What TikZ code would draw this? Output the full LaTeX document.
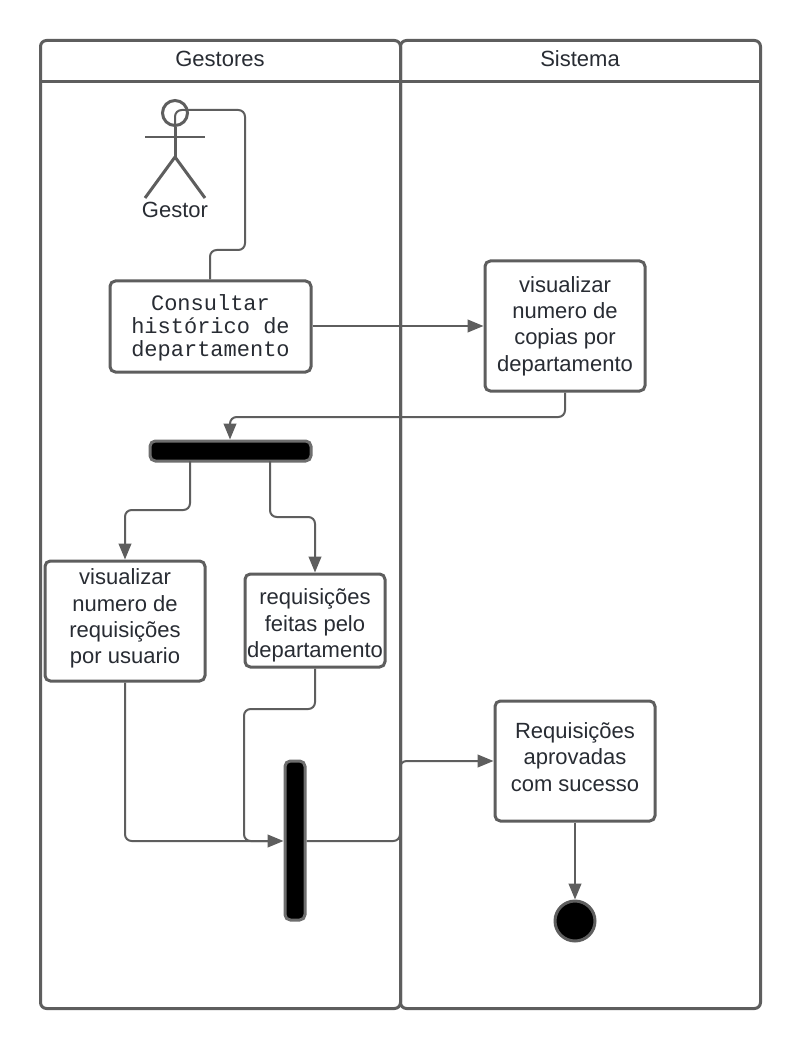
\documentclass[tikz,border=0pt]{standalone}
\usepackage{fontspec}
\setmainfont{Liberation Sans}
\setmonofont{Liberation Mono}
\usetikzlibrary{arrows.meta}
\definecolor{ln}{HTML}{5E5E5E}
\definecolor{tx}{HTML}{282C33}
\newcommand{\liftlines}[2]{\raisebox{\dimexpr#1-6.25pt\relax}[0pt][0pt]{\begin{tabular}{@{}c@{}}#2\end{tabular}}}
\tikzset{
  lanebox/.style={draw=ln,line width=2.25pt,rounded corners=4.5pt,anchor=north west,inner sep=0pt,outer sep=0pt},
  lanehead/.style={text=tx,font=\fontsize{16.5}{20}\selectfont,inner sep=0pt},
  actbox/.style={draw=ln,fill=white,line width=2.25pt,rounded corners=4pt,inner sep=0pt,align=center,text=tx,
    font=\fontsize{16.5}{19.8}\selectfont},
  monobox/.style={actbox,font=\fontsize{16.5}{17.3}\selectfont\ttfamily},
  syncbar/.style={draw=ln!90!white,fill=black,line width=2.25pt,rounded corners=4pt,inner sep=0pt},
  conn/.style={draw=ln,line width=1.5pt,rounded corners=5pt},
  flow/.style={conn,-{Triangle[length=12pt,width=9.5pt]}},
  stick/.style={draw=ln,line width=2.25pt},
}
\begin{document}
\begin{tikzpicture}[x=0.75pt,y=-0.75pt]
\useasboundingbox (0,0) rectangle (800,1048);
\fill[white] (0,0) rectangle (800,1048);
% lanes
\node[lanebox,minimum width=270pt,minimum height=726pt] (laneA) at (40.5,40.5) {};
\node[lanebox,minimum width=270pt,minimum height=726pt] (laneB) at (400.5,40.5) {};
\coordinate (hA) at (40,81.5);
\coordinate (hB) at (760,81.5);
\draw[stick] (hA) -- (hB);
\node[lanehead] (tA) at (220,58.5) {Gestores};
\node[lanehead] (tB) at (580,58.5) {Sistema};
% actor
\coordinate (hip) at (175,157);
\coordinate (armL) at (145,137);
\coordinate (armR) at (205,137);
\coordinate (legL) at (145,198);
\coordinate (legR) at (205,198);
\node[draw=ln,line width=2.25pt,circle,minimum size=18.75pt,inner sep=0pt] (head) at (175,113) {};
\draw[stick] (head.south) -- (hip);
\draw[stick,line width=1.9pt] (armL) -- (armR);
\draw[stick,line join=round] (legL) -- (hip) -- (legR);
\node[text=tx,font=\fontsize{16.5}{19}\selectfont,inner sep=0pt] (actor) at (175,209.5) {Gestor};
% activities
\node[monobox,minimum width=150.75pt,minimum height=68.25pt] (consult) at (210.5,326.5) {\liftlines{0.4pt}{Consultar\\histórico de\\departamento}};
\node[actbox,minimum width=120pt,minimum height=97.5pt] (vis) at (565,326) {visualizar\\numero de\\copias por\\departamento};
\node[syncbar,minimum width=120.75pt,minimum height=15pt] (fork) at (230.5,451) {};
\node[actbox,minimum width=120pt,minimum height=90pt] (req) at (125,621) {\liftlines{3.4pt}{visualizar\\numero de\\requisições\\por usuario}};
\node[actbox,minimum width=105pt,minimum height=69.75pt] (dep) at (315,620.5) {\liftlines{-2.25pt}{requisições\\feitas pelo\\departamento}};
\node[syncbar,minimum width=15pt,minimum height=119.25pt] (join) at (295,840.5) {};
\node[actbox,minimum width=120pt,minimum height=90pt] (ok) at (575,761) {\liftlines{3pt}{Requisições\\aprovadas\\com sucesso}};
\node[draw=ln,fill=black,line width=2.25pt,circle,minimum size=30pt,inner sep=0pt] (final) at (575,921) {};
% connectors
\draw[conn] (consult.north -| 210,0) -- (210,250) -- (245,250) -- (245,110) -- (175,110) -- (hip);
\draw[flow] (consult.east |- vis.west) -- (vis.west);
\draw[flow] (vis.south) -- (565,417) -- (230,417) -- (fork.north -| 230,0);
\draw[flow] (190,461) -- (190,510) -- (125,510) -- (req.north);
\draw[flow] (270,461) -- (270,517) -- (315,517) -- (dep.north);
\draw[flow] (req.south) -- (125,841) -- (join.west |- 0,841);
\draw[conn] (dep.south) -- (315,709) -- (244,709) -- (244,841) -- (270,841);
\draw[flow] (join.east |- 0,841) -- (400,841) -- (400,761) -- (ok.west |- 0,761);
\draw[flow] (ok.south) -- (final.north);
\end{tikzpicture}
\end{document}
